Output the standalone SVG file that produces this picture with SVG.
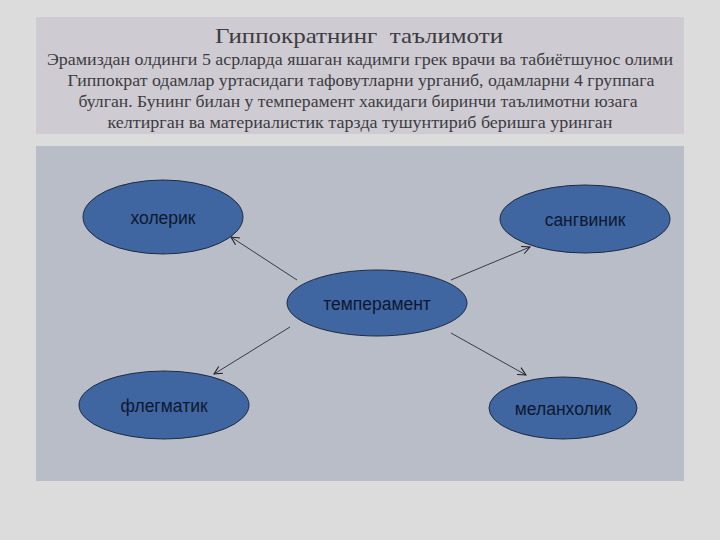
<svg xmlns="http://www.w3.org/2000/svg" width="720" height="540" viewBox="0 0 720 540">
<style>
.hdr{font-family:"Liberation Serif","Times New Roman",serif;fill:#3c3c40;text-anchor:middle;white-space:pre}
.node ellipse{fill:#3f66a0;stroke:#1f2b40;stroke-width:1}
.node text{font-family:"Liberation Sans",Arial,sans-serif;font-size:17.5px;fill:#0d1830;text-anchor:middle}
.conn line{stroke:#1a1a1a;stroke-width:0.8;marker-end:url(#arr)}
</style>
<defs>
<marker id="arr" viewBox="0 0 10 10" refX="9" refY="5" markerWidth="10" markerHeight="10" markerUnits="userSpaceOnUse" orient="auto">
<path d="M1,1 L9,5 L1,9" fill="none" stroke="#1a1a1a" stroke-width="1"/>
</marker>
</defs>
<rect width="720" height="540" fill="#dcdcdc"/>
<rect x="36" y="17" width="648" height="117" fill="#cfcbd3"/>
<rect x="36" y="146" width="648" height="335" fill="#b9bdc8"/>
<g id="header">
<text class="hdr" x="359" y="43" font-size="22" textLength="288" lengthAdjust="spacingAndGlyphs" xml:space="preserve">Гиппократнинг  таълимоти</text>
<text class="hdr" x="360" y="65" font-size="17.5" textLength="626" lengthAdjust="spacingAndGlyphs">Эрамиздан олдинги 5 асрларда яшаган кадимги грек врачи ва табиётшунос олими</text>
<text class="hdr" x="361" y="86" font-size="17.5" textLength="587" lengthAdjust="spacingAndGlyphs">Гиппократ одамлар уртасидаги тафовутларни урганиб, одамларни 4 группага</text>
<text class="hdr" x="358" y="107" font-size="17.5" textLength="559" lengthAdjust="spacingAndGlyphs">булган. Бунинг билан у темперамент хакидаги биринчи таълимотни юзага</text>
<text class="hdr" x="360" y="128" font-size="17.5" textLength="505" lengthAdjust="spacingAndGlyphs">келтирган ва материалистик тарзда тушунтириб беришга уринган</text>
</g>
<g id="connectors" class="conn">
<line x1="297" y1="280" x2="231" y2="237"/>
<line x1="451" y1="280" x2="530" y2="247"/>
<line x1="290" y1="327" x2="214" y2="374"/>
<line x1="451" y1="333" x2="526" y2="375"/>
</g>
<g id="n-temperament" class="node"><ellipse cx="377" cy="303" rx="90" ry="33"/><text x="377" y="310">темперамент</text></g>
<g id="n-choleric" class="node"><ellipse cx="163" cy="217" rx="80" ry="37"/><text x="163" y="224">холерик</text></g>
<g id="n-sanguine" class="node"><ellipse cx="585" cy="219" rx="85" ry="34"/><text x="585" y="226">сангвиник</text></g>
<g id="n-phlegmatic" class="node"><ellipse cx="164" cy="405" rx="85" ry="34"/><text x="164" y="412">флегматик</text></g>
<g id="n-melancholic" class="node"><ellipse cx="563" cy="408" rx="74" ry="31"/><text x="563" y="415">меланхолик</text></g>
</svg>
